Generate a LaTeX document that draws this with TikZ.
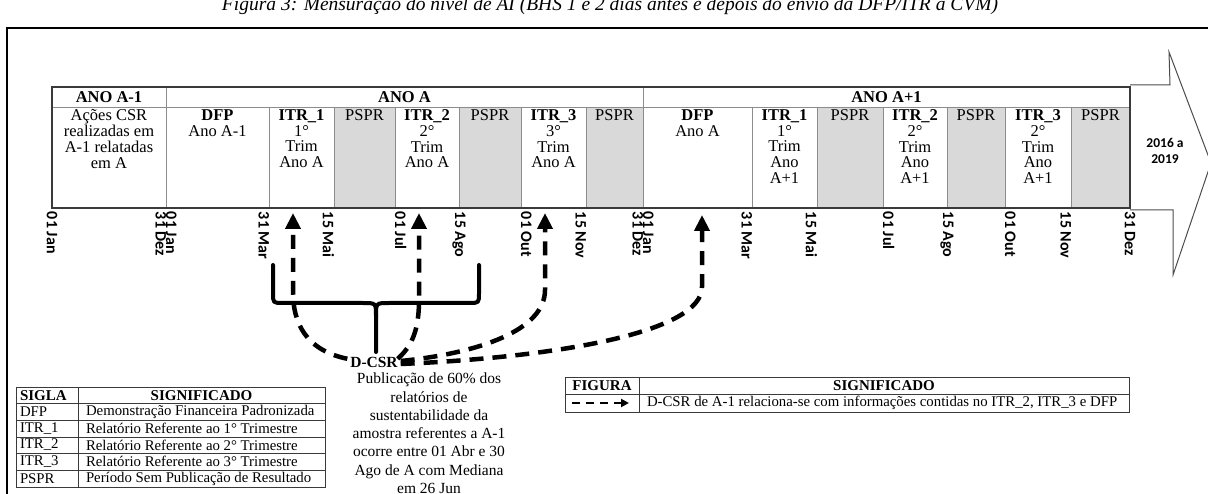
\documentclass[tikz,border=0pt]{standalone}
\usepackage{fontspec}
\setmainfont{Liberation Serif}
\newfontfamily\lblfont{Carlito}
\usetikzlibrary{arrows.meta,calc}
\definecolor{psprfill}{HTML}{D9D9D9}
\definecolor{gridc}{HTML}{8C8C8C}
\definecolor{framec}{HTML}{3A3A3A}
\newcommand\mycell[5]{%
  \path[draw=gridc, line width=0.8pt, fill=#4] (#2,107) rectangle (#3,208);
  \node[txt, anchor=north] (#1) at ({(#2+#3)/2},109.5) {#5};}
\newcommand\myhead[4]{%
  \path[draw=gridc, line width=0.8pt] (#2,87) rectangle (#3,107);
  \node[hdr] (#1) at ({(#2+#3)/2},97.5) {#4};}
\begin{document}
\begin{tikzpicture}[x=1pt,y=-1pt,
  every node/.style={inner sep=0pt, outer sep=0pt},
  txt/.style={font=\fontsize{16.5}{15.8}\selectfont, align=center},
  hdr/.style={font=\fontsize{16.5}{16}\selectfont\bfseries},
  legtxt/.style={font=\fontsize{14.8}{15}\selectfont},
  leghdr/.style={font=\fontsize{15}{15}\selectfont\bfseries},
  datelbl/.style={font=\lblfont\bfseries\fontsize{16}{16}\selectfont, rotate=-90},
  relarrow/.style={line width=4.5pt, dash pattern=on 14pt off 9pt, -{Triangle[length=16pt,width=15pt]}},
  bracestyle/.style={line width=4pt, line join=round, line cap=round},
  legline/.style={draw=framec, line width=0.9pt},
]
\useasboundingbox (0,0) rectangle (1208,494);

% title (clipped at top)
\node[font=\fontsize{19.5}{19.5}\selectfont\itshape, anchor=base] (title) at (610,11)
  {Figura 3: Mensuração do nível de AI (BHS 1 e 2 dias antes e depois do envio da DFP/ITR à CVM)};

% outer frame
\draw[line width=2.5pt] (7,494) -- (7,28) -- (1210,28);

% big arrow outline
\draw[line width=1pt, black!70, line join=miter]
  (1130,85) -- (1170,85) -- (1169,52) -- (1211,163) -- (1173,275) -- (1173,210) -- (1130,210);
\node[font=\lblfont\bfseries\fontsize{13.5}{16.5}\selectfont, align=center] (yrs) at (1165,151) {2016 a\\2019};

% header row
\myhead{h1}{52}{166}{ANO A-1}
\myhead{h2}{166}{643}{ANO A}
\myhead{h3}{643}{1130}{ANO A+1}

% content row
\mycell{c01}{52}{166}{white}{Ações CSR\\realizadas em\\A-1 relatadas\\em A}
\mycell{c02}{166}{269}{white}{\textbf{DFP}\\Ano A-1}
\mycell{c03}{269}{334}{white}{\textbf{ITR\_1}\\1°\\Trim\\Ano A}
\mycell{c04}{334}{395}{psprfill}{PSPR}
\mycell{c05}{395}{459}{white}{\textbf{ITR\_2}\\2°\\Trim\\Ano A}
\mycell{c06}{459}{521}{psprfill}{PSPR}
\mycell{c07}{521}{586}{white}{\textbf{ITR\_3}\\3°\\Trim\\Ano A}
\mycell{c08}{586}{643}{psprfill}{PSPR}
\mycell{c09}{643}{752}{white}{\textbf{DFP}\\Ano A}
\mycell{c10}{752}{817}{white}{\textbf{ITR\_1}\\1°\\Trim\\Ano\\A+1}
\mycell{c11}{817}{883}{psprfill}{PSPR}
\mycell{c12}{883}{947}{white}{\textbf{ITR\_2}\\2°\\Trim\\Ano\\A+1}
\mycell{c13}{947}{1005}{psprfill}{PSPR}
\mycell{c14}{1005}{1071}{white}{\textbf{ITR\_3}\\2°\\Trim\\Ano\\A+1}
\mycell{c15}{1071}{1130}{psprfill}{PSPR}
\draw[framec, line width=1.2pt] (52,87) rectangle (1130,208);

% date labels
\foreach \x/\a/\t [count=\i] in {52/west/01 Jan, 166/north west/31 Dez, 166/south west/01 Jan,
  269/north west/31 Mar, 334/north west/15 Mai, 395/south west/01 Jul, 459/west/15 Ago,
  521/south west/01 Out, 586/north west/15 Nov, 643/north west/31 Dez, 643/south west/01 Jan,
  752/north west/31 Mar, 817/north west/15 Mai, 883/south west/01 Jul, 947/west/15 Ago,
  1005/south west/01 Out, 1071/north west/15 Nov, 1130/west/31 Dez}
  \node[datelbl, anchor=\a] (d\i) at (\x,212) {\t};

% arrow targets
\coordinate (t1) at (293,213);
\coordinate (t2) at (419,213);
\coordinate (t3) at (545,213);
\coordinate (t4) at (702,215);

% D-CSR
\node[font=\fontsize{15.5}{15}\selectfont\bfseries] (dcsr) at (374,362) {D-CSR};
\node[font=\fontsize{15.5}{18.3}\selectfont, align=center, anchor=north] (desc) at (429,373)
  {Publicação de 60\% dos\\relatórios de\\sustentabilidade da\\amostra referentes a A-1\\ocorre entre 01 Abr e 30\\Ago de A com Mediana\\em 26 Jun};

% brace
\draw[bracestyle] (273,265) -- (273,293) .. controls (273,303) .. (283,303) -- (363,303)
  .. controls (376,303) .. (376,316) -- (376,352);
\draw[bracestyle] (479,265) -- (479,293) .. controls (479,303) .. (469,303) -- (389,303)
  .. controls (376,303) .. (376,316);

% dashed relation arrows
\draw[relarrow] ([xshift=-3pt,yshift=-2pt]dcsr.north west) .. controls (305,350) and (293,322) .. (293,292) -- (t1);
\draw[relarrow] ([yshift=-2pt]dcsr.north east) .. controls (412,346) and (419,330) .. (419,300) -- (t2);
\draw[relarrow] ([xshift=3pt,yshift=1pt]dcsr.east) .. controls (480,353) and (545,330) .. (545,290) -- (t3);
\draw[relarrow] ([xshift=3pt,yshift=-2pt]dcsr.east) .. controls (560,357) and (702,332) .. (702,287) -- (t4);

% legend 1
\draw[legline] (16,387) rectangle (325,487);
\foreach \yy in {403.5,420,437,453,470} \draw[legline] (16,\yy) -- (325,\yy);
\draw[legline] (78,387) -- (78,487);
\node[leghdr, anchor=west] (l1h1) at (20,395.5) {SIGLA};
\node[leghdr] (l1h2) at (201.5,395.5) {SIGNIFICADO};
\foreach \yy/\s/\m [count=\i] in {412/DFP/Demonstração Financeira Padronizada,
  428.5/ITR\_1/Relatório Referente ao 1° Trimestre,
  445/ITR\_2/Relatório Referente ao 2° Trimestre,
  461.5/ITR\_3/Relatório Referente ao 3° Trimestre,
  478.5/PSPR/Período Sem Publicação de Resultado}
  {\node[legtxt, anchor=west] (ls\i) at (20,\yy) {\s};
   \node[legtxt, anchor=west] (lm\i) at (86,\yy) {\m};}

% legend 2
\draw[legline] (565,377) rectangle (1129,412);
\draw[legline] (565,394) -- (1129,394);
\draw[legline] (639,377) -- (639,412);
\node[leghdr] (l2h1) at (602,385.5) {FIGURA};
\node[leghdr] (l2h2) at (884,385.5) {SIGNIFICADO};
\coordinate (ic1) at (572,403);
\coordinate (ic2) at (629,403);
\draw[line width=2.2pt, dash pattern=on 8pt off 6pt, -{Triangle[length=8pt,width=8pt]}] (ic1) -- (ic2);
\node[legtxt, anchor=west] (l2t) at (647,403)
  {D-CSR de A-1 relaciona-se com informações contidas no ITR\_2, ITR\_3 e DFP};
\end{tikzpicture}
\end{document}
